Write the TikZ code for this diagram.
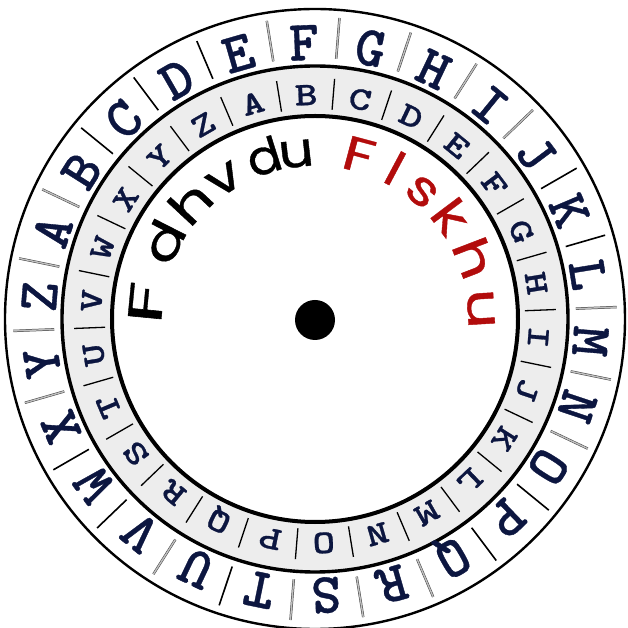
\documentclass[tikz,border=0pt]{standalone}
\usepackage{fontspec}
\newfontfamily\ringfont{lmmonolt10-bold}[Extension=.otf,FakeBold=0.6]
\newfontfamily\innerringfont{lmmonolt10-bold}[Extension=.otf,FakeStretch=1.3,FakeBold=0.8]
\newfontfamily\titlefont{Poppins}[FakeBold=0.7]
\definecolor{ink}{RGB}{12,22,64}
\definecolor{cipherred}{RGB}{178,12,12}
\begin{document}
\begin{tikzpicture}[x=1pt,y=1pt,
  harddiv/.style={line width=1.6pt,black},
  softdiv/.style={draw=black!75,line width=0.5pt,double=black!25,double distance=1.4pt},
  outerletter/.style={anchor=base,inner sep=0pt,text=ink,font=\ringfont\fontsize{57}{60}\selectfont},
  innerletter/.style={anchor=base,inner sep=0pt,text=ink,font=\innerringfont\fontsize{33}{36}\selectfont},
  titleletter/.style={anchor=base,inner sep=0pt,font=\titlefont\fontsize{48}{50}\selectfont}]
  \useasboundingbox (-315,-309) rectangle (313,319);
  % rings
  \fill[black!7] (0,0) circle (253);
  \fill[white] (0,0) circle (203);
  \draw[line width=2.4pt] (0,0) circle (310);
  \draw[line width=3.4pt] (0,0) circle (253);
  \draw[line width=4pt] (0,0) circle (203);
  % outer ring
  \foreach \l [count=\i from 0] in {A,...,Z}{
    \pgfmathsetmacro\a{161.5-\i*360/26}
    \node[outerletter,rotate=\a-90] (out-\l) at (\a:259) {\l};
  }
  \foreach \i in {1,2,3,9,10,14,15,19,21,22}{
    \pgfmathsetmacro\a{161.5-180/26-\i*360/26}
    \draw[harddiv] (\a:261) -- (\a:302);
  }
  \foreach \i in {0,4,5,6,7,8,11,12,13,16,17,18,20,23,24,25}{
    \pgfmathsetmacro\a{161.5-180/26-\i*360/26}
    \draw[softdiv] (\a:261) -- (\a:302);
  }
  % inner ring
  \foreach \l [count=\i from 0] in {A,...,Z}{
    \pgfmathsetmacro\b{106.1-\i*360/26}
    \node[innerletter,rotate=\b-90] (in-\l) at (\b:214) {\l};
    \draw[harddiv,line width=1.3pt] (\b-180/26:210) -- (\b-180/26:241);
  }
  % title
  \foreach \ch/\a/\s [count=\i] in {F/174.5/1.75,d/153/1.3,h/137/1.3,v/123/1.25,d/107.5/1.05,u/96.5/1.15}
    \node[titleletter,rotate=\a-90,xscale=\s] (black-\i) at (\a:153) {\ch};
  \foreach \ch/\a/\s [count=\i] in {F/75/1.3,l/62/1.2,s/50/1.2,k/37/1.25,h/21/1.3,u/3.5/1.3}
    \node[titleletter,text=cipherred,rotate=\a-90,xscale=\s] (red-\i) at (\a:153) {\ch};
  \fill (0,-1) circle (20);
\end{tikzpicture}
\end{document}
